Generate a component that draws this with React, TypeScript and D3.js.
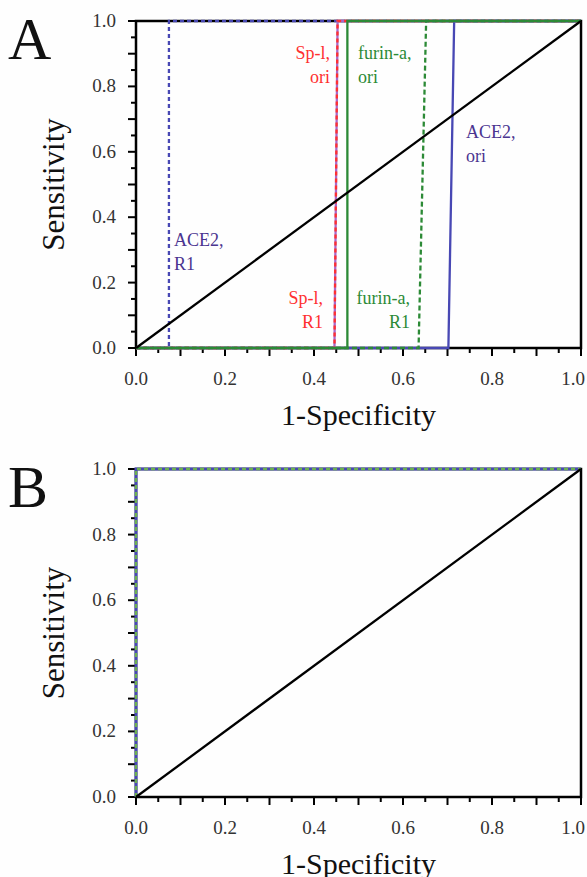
import React from "react";
import * as d3 from "d3";

// ---- data ----
// ROC curves, panel A: [1-specificity, sensitivity]
const ace2Ori: [number, number][] = [[0, 0], [0.702, 0], [0.715, 1], [1, 1]];
const ace2R1: [number, number][] = [[0, 0], [0.074, 0], [0.074, 1], [1, 1]];
const spOri: [number, number][] = [[0, 0], [0.446, 0], [0.453, 1], [1, 1]];
const spR1: [number, number][] = [[0, 0], [0.446, 0], [0.453, 1], [1, 1]];
const furinR1: [number, number][] = [[0, 0], [0.635, 0], [0.652, 1], [1, 1]];
const furinOri: [number, number][] = [[0, 0], [0.475, 0], [0.475, 1], [1, 1]];
// Panel B: all perfect classifiers
const bAce2: [number, number][] = [[0, 0], [0, 1], [1, 1]];
const bFurin: [number, number][] = [[0, 0], [0, 1], [1, 1]];
const diagonal: [number, number][] = [[0, 0], [1, 1]];

const tickValues = d3.range(0, 21).map((i) => i * 0.05);
const tickLabels = ["0.0", "0.2", "0.4", "0.6", "0.8", "1.0"];

const BLUE = "#4848B4";
const GREEN = "#2C8A36";
const RED = "#FF3030";
const PURPLE = "#A868C8";
const LABEL_PURPLE = "#4B3590";
const FONT = "'Liberation Serif', 'Times New Roman', serif";

type Curve = { pts: [number, number][]; color: string; dash?: string; width?: number };

const curvesA: Curve[] = [
  { pts: ace2Ori, color: BLUE },
  { pts: ace2R1, color: BLUE, dash: "4,3" },
  { pts: spOri, color: PURPLE },
  { pts: spR1, color: RED, dash: "4,3" },
  { pts: furinR1, color: GREEN, dash: "5,3" },
  { pts: furinOri, color: GREEN },
];
const curvesB: Curve[] = [
  { pts: bAce2, color: BLUE, width: 3 },
  { pts: bFurin, color: "#6CB050", dash: "4,3" },
];

type Label = { lines: string[]; x: number; y: number; color: string; anchor: string };
const labelsA: Label[] = [
  { lines: ["Sp-l,", "ori"], x: 330, y: 53, color: RED, anchor: "end" },
  { lines: ["furin-a,", "ori"], x: 358, y: 53, color: GREEN, anchor: "start" },
  { lines: ["ACE2,", "ori"], x: 466, y: 132, color: LABEL_PURPLE, anchor: "start" },
  { lines: ["ACE2,", "R1"], x: 174, y: 240, color: LABEL_PURPLE, anchor: "start" },
  { lines: ["Sp-l,", "R1"], x: 323, y: 298, color: RED, anchor: "end" },
  { lines: ["furin-a,", "R1"], x: 410, y: 298, color: GREEN, anchor: "end" },
];

type PanelProps = { top: number; bottom: number; letter: string; curves: Curve[]; labels: Label[] };

function Panel({ top, bottom, letter, curves, labels }: PanelProps) {
  const left = 136;
  const right = 581;
  const x = d3.scaleLinear().domain([0, 1]).range([left, right]);
  const y = d3.scaleLinear().domain([0, 1]).range([bottom, top]);
  const line = d3
    .line<[number, number]>()
    .x((d) => x(d[0]))
    .y((d) => y(d[1]));
  const isMajor = (i: number) => i % 2 === 0;
  const isLabel = (i: number) => i % 4 === 0;
  return (
    <g>
      <text x={8} y={top + 38} fontFamily={FONT} fontSize={60} fill="#111">
        {letter}
      </text>
      {/* frame */}
      <rect x={left} y={top} width={right - left} height={bottom - top} fill="none" stroke="#000" strokeWidth={2.5} />
      {/* ticks */}
      {tickValues.map((v, i) => (
        <g key={"xt" + i}>
          <line x1={x(v)} x2={x(v)} y1={bottom} y2={bottom + (isMajor(i) ? 8 : 5)} stroke="#000" strokeWidth={2} />
          <line x1={left} x2={left - (isMajor(i) ? 8 : 5)} y1={y(v)} y2={y(v)} stroke="#000" strokeWidth={2} />
        </g>
      ))}
      {tickValues.map((v, i) =>
        isLabel(i) ? (
          <g key={"tl" + i}>
            <text
              x={v === 1 ? 585 : x(v)}
              y={bottom + 37}
              textAnchor={v === 1 ? "end" : "middle"}
              fontFamily={FONT}
              fontSize={19}
              fill="#333"
            >
              {tickLabels[i / 4]}
            </text>
            <text x={left - 20} y={y(v) + 6} textAnchor="end" fontFamily={FONT} fontSize={19} fill="#333">
              {tickLabels[i / 4]}
            </text>
          </g>
        ) : null
      )}
      <text x={(left + right) / 2} y={bottom + 77} textAnchor="middle" fontFamily={FONT} fontSize={30} fill="#111">
        1-Specificity
      </text>
      <text
        transform={`translate(64, ${(top + bottom) / 2}) rotate(-90)`}
        textAnchor="middle"
        fontFamily={FONT}
        fontSize={31}
        fill="#111"
      >
        Sensitivity
      </text>
      {/* curves */}
      {curves.map((c, i) => (
        <path
          key={"c" + i}
          d={line(c.pts) || ""}
          fill="none"
          stroke={c.color}
          strokeWidth={c.width ?? 2.3}
          strokeDasharray={c.dash}
        />
      ))}
      <path d={line(diagonal) || ""} fill="none" stroke="#000" strokeWidth={2.3} />
      {labels.map((l, i) => (
        <text key={"l" + i} fontFamily={FONT} fontSize={18} fill={l.color} textAnchor={l.anchor}>
          {l.lines.map((s, j) => (
            <tspan key={j} x={l.x} y={l.y + 6 + j * 24}>
              {s}
            </tspan>
          ))}
        </text>
      ))}
    </g>
  );
}

export default function App() {
  return (
    <svg
      width={587}
      height={877}
      viewBox="0 0 587 877"
      style={{ position: "absolute", left: 0, top: 0, background: "#fefefe" }}
    >
      <Panel top={21} bottom={348} letter="A" curves={curvesA} labels={labelsA} />
      <Panel top={469} bottom={797} letter="B" curves={curvesB} labels={[]} />
    </svg>
  );
}
